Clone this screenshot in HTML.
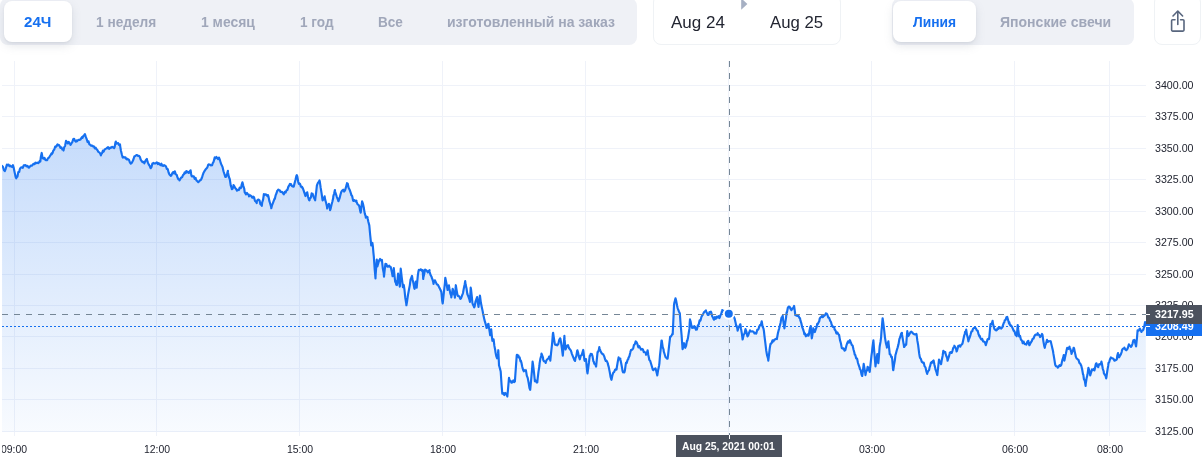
<!DOCTYPE html>
<html><head><meta charset="utf-8"><title>chart</title>
<style>
html,body{margin:0;padding:0;background:#fff;}
body{will-change:transform;width:1202px;height:466px;overflow:hidden;position:relative;font-family:"Liberation Sans",sans-serif;}
.grp{position:absolute;background:#eff1f6;border-radius:8px;}
.act{position:absolute;background:#fff;border-radius:8px;box-shadow:0 1px 2px rgba(128,138,157,.12),0 4px 10px rgba(128,138,157,.20);}
.t{position:absolute;top:13px;height:18px;line-height:18px;font-size:14px;font-weight:bold;color:#a0a7ba;white-space:nowrap;transform-origin:0 50%;display:inline-block;}
.t.on{color:#1670f0;}
.box{position:absolute;border:1px solid #eff2f5;border-radius:8px;background:#fff;box-sizing:border-box;}
.d{position:absolute;display:inline-block;top:13.2px;height:20px;line-height:20px;font-size:16px;color:#222531;white-space:nowrap;transform-origin:0 50%;}
.chart{position:absolute;left:0;top:0;}
.pl{position:absolute;left:1155px;transform:scaleX(0.968);transform-origin:0 50%;height:14px;line-height:14px;font-size:11px;color:#222531;white-space:nowrap;}
.tl{position:absolute;top:442px;transform:scaleX(0.95);transform-origin:50% 50%;width:60px;text-align:center;height:14px;line-height:14px;font-size:11px;color:#222531;white-space:nowrap;}
.lb{position:absolute;display:inline-block;transform-origin:0 50%;color:#fff;font-size:11px;font-weight:bold;white-space:nowrap;}
</style></head><body>
<div class="grp" style="left:0px;top:-2px;width:637px;height:46.5px"></div>
<div class="act" style="left:4px;top:1px;width:68px;height:40.5px"></div>
<span class="t on" id="t1" style="transform:scaleX(1.0779);left:23.8px">24Ч</span>
<span class="t" id="t2" style="transform:scaleX(0.9779);left:96.2px">1 неделя</span>
<span class="t" id="t3" style="transform:scaleX(0.9945);left:201px">1 месяц</span>
<span class="t" id="t4" style="transform:scaleX(0.9717);left:299.8px">1 год</span>
<span class="t" id="t5" style="transform:scaleX(0.9692);left:377.7px">Все</span>
<span class="t" id="t6" style="transform:scaleX(1.0021);left:447.4px">изготовленный на заказ</span>
<div class="box" style="left:652.9px;top:-6px;width:188.6px;height:50.5px"></div>
<span class="d" id="d1" style="transform:scaleX(1.0627);left:671px">Aug 24</span>
<span class="d" id="d2" style="transform:scaleX(1.0469);left:770.2px">Aug 25</span>
<svg style="position:absolute;left:741px;top:-2px" width="7" height="12" viewBox="0 0 7 12"><path d="M0.2,0.2 L6.4,6 L0.2,11.8 Z" fill="#a6b0c3"/></svg>
<div class="grp" style="left:892px;top:-2px;width:242px;height:46.5px"></div>
<div class="act" style="left:893px;top:1px;width:83px;height:40.5px"></div>
<span class="t on" id="t7" style="transform:scaleX(0.9869);left:912.7px">Линия</span>
<span class="t" id="t8" style="transform:scaleX(1.0020);left:999.7px">Японские свечи</span>
<div class="box" style="left:1154.2px;top:-6px;width:47.3px;height:50.8px"></div>
<svg style="position:absolute;left:1166px;top:6px" width="24" height="30" viewBox="1166 6 24 30" fill="none" stroke="#58667e" stroke-width="1.6" stroke-linecap="round" stroke-linejoin="round"><path d="M1175,19.8 H1172.6 Q1171.6,19.8 1171.6,20.8 V30.1 Q1171.6,31.1 1172.6,31.1 H1183 Q1184,31.1 1184,30.1 V20.8 Q1184,19.8 1183,19.8 H1180.6"/><path d="M1177.8,24.4 V11.2 M1173,16 L1177.8,11 L1182.6,16"/></svg>
<svg class="chart" width="1202" height="466" viewBox="0 0 1202 466">
<defs><linearGradient id="ag" x1="0" y1="60" x2="0" y2="432" gradientUnits="userSpaceOnUse"><stop offset="0" stop-color="#1670f0" stop-opacity="0.30"/><stop offset="1" stop-color="#1670f0" stop-opacity="0.03"/></linearGradient><clipPath id="pane"><rect x="2" y="60" width="1144" height="372"/></clipPath></defs>
<rect x="2" y="85" width="1144" height="1" fill="#eff2f9"/>
<rect x="2" y="116" width="1144" height="1" fill="#eff2f9"/>
<rect x="2" y="148" width="1144" height="1" fill="#eff2f9"/>
<rect x="2" y="179" width="1144" height="1" fill="#eff2f9"/>
<rect x="2" y="211" width="1144" height="1" fill="#eff2f9"/>
<rect x="2" y="242" width="1144" height="1" fill="#eff2f9"/>
<rect x="2" y="274" width="1144" height="1" fill="#eff2f9"/>
<rect x="2" y="305" width="1144" height="1" fill="#eff2f9"/>
<rect x="2" y="336" width="1144" height="1" fill="#eff2f9"/>
<rect x="2" y="368" width="1144" height="1" fill="#eff2f9"/>
<rect x="2" y="399" width="1144" height="1" fill="#eff2f9"/>
<rect x="2" y="431" width="1144" height="1" fill="#eff2f9"/>
<rect x="14" y="61" width="1" height="375" fill="#eff2f9"/>
<rect x="156" y="61" width="1" height="375" fill="#eff2f9"/>
<rect x="299" y="61" width="1" height="375" fill="#eff2f9"/>
<rect x="442" y="61" width="1" height="375" fill="#eff2f9"/>
<rect x="585" y="61" width="1" height="375" fill="#eff2f9"/>
<rect x="728" y="61" width="1" height="375" fill="#eff2f9"/>
<rect x="871" y="61" width="1" height="375" fill="#eff2f9"/>
<rect x="1014" y="61" width="1" height="375" fill="#eff2f9"/>
<rect x="1109" y="61" width="1" height="375" fill="#eff2f9"/>
<g clip-path="url(#pane)"><path d="M2.1,165.84 L3.0,166.93 L3.9,170.06 L4.8,171.11 L5.7,168.81 L6.6,165.58 L6.9,164.6 L7.5,165.32 L8.4,164.55 L9.3,166.03 L10.2,165.53 L10.3,166.33 L11.1,166.13 L12.0,166.77 L12.9,165.16 L13.8,168.17 L14.7,172.61 L15.6,176.83 L16.3,178.37 L16.5,177.53 L17.4,176.79 L18.3,172.12 L19.2,171.98 L19.7,169.61 L20.1,168.51 L21.0,167.61 L21.9,167.27 L22.8,167.76 L23.7,165.28 L24.6,165.49 L24.9,165.13 L25.5,165.14 L26.4,166.32 L27.3,165.77 L28.2,166.48 L28.3,167.43 L29.1,167.65 L30.0,166.41 L30.9,165.53 L31.8,165.65 L32.7,164.72 L33.6,163.73 L34.3,164.07 L34.5,164.23 L35.4,162.66 L36.3,163.13 L37.2,162.61 L38.1,163.13 L39.0,162.36 L39.9,160.82 L40.3,161.64 L40.8,157.28 L41.7,152.93 L42.6,157.87 L42.9,158.28 L43.5,158.74 L44.4,157.82 L45.3,159.71 L46.2,160.21 L47.1,159.96 L47.2,160.14 L48.0,158.14 L48.9,157.82 L49.8,156.24 L50.7,154.88 L51.5,153.46 L51.6,154.23 L52.5,153.07 L53.4,150.42 L54.3,149.49 L55.2,146.5 L56.1,146.74 L57.0,145.17 L57.5,144.45 L57.9,145.3 L58.8,144.93 L59.7,146.23 L60.6,148.0 L61.5,147.36 L62.4,149.54 L63.3,149.81 L63.5,150.55 L64.2,147.22 L65.1,145.81 L66.0,140.9 L66.1,141.27 L66.9,141.68 L67.8,143.45 L68.7,141.92 L69.6,143.4 L70.4,144.04 L70.5,144.85 L71.4,143.33 L72.3,142.1 L73.2,139.22 L73.8,138.82 L74.1,138.76 L75.0,140.82 L75.9,141.7 L76.8,140.29 L77.2,141.21 L77.7,140.47 L78.6,139.86 L79.5,139.91 L80.4,139.58 L81.3,138.12 L82.2,136.85 L82.4,137.93 L83.1,136.46 L84.0,135.42 L84.9,134.11 L85.8,136.9 L86.7,139.14 L87.5,141.61 L87.6,142.06 L88.5,141.31 L89.4,144.38 L90.3,144.95 L91.0,145.24 L91.2,145.84 L92.1,145.55 L93.0,146.32 L93.9,146.31 L94.8,148.45 L95.7,147.72 L96.1,148.81 L96.6,149.12 L97.5,150.22 L98.4,151.9 L99.3,152.37 L100.2,153.45 L100.9,155.38 L101.1,154.28 L102.0,153.25 L102.9,150.66 L103.0,152.04 L103.8,151.34 L104.7,149.39 L105.6,148.91 L106.5,148.42 L107.4,147.72 L108.1,147.16 L108.3,148.43 L109.2,148.93 L110.1,147.68 L111.0,147.84 L111.9,146.93 L112.8,147.09 L113.7,147.84 L114.1,148.09 L114.6,147.3 L115.5,142.23 L115.8,141.57 L116.4,143.69 L117.3,143.36 L118.2,143.15 L119.1,144.95 L120.0,144.38 L120.1,145.73 L120.9,150.54 L121.8,154.29 L122.7,157.58 L123.6,157.03 L124.5,157.56 L125.4,157.29 L126.3,159.11 L127.0,158.63 L127.2,159.53 L128.1,159.26 L129.0,159.88 L129.9,162.31 L130.8,163.66 L131.3,163.22 L131.7,162.93 L132.6,161.24 L133.5,159.32 L134.4,156.26 L134.7,156.42 L135.3,156.02 L136.2,155.18 L137.1,155.17 L138.0,155.83 L138.9,155.77 L139.8,156.9 L139.9,156.82 L140.0,157.45 L140.7,159.61 L141.6,161.0 L142.5,162.17 L143.4,161.89 L144.3,163.25 L145.2,161.3 L146.1,159.73 L146.9,158.93 L147.0,159.76 L147.9,162.65 L148.8,164.66 L149.7,165.88 L150.6,168.24 L151.5,167.11 L152.4,163.48 L153.3,163.21 L153.4,162.97 L154.2,163.47 L155.1,163.54 L156.0,162.99 L156.9,162.37 L157.8,164.11 L158.7,163.08 L159.6,164.45 L160.5,165.05 L161.4,163.71 L161.5,163.91 L162.3,165.76 L163.2,165.85 L164.1,165.08 L165.0,165.64 L165.9,166.37 L166.6,168.17 L166.8,168.98 L167.7,168.98 L168.6,172.46 L169.5,174.58 L170.4,175.46 L170.9,175.86 L171.3,175.63 L172.2,173.44 L173.1,172.03 L174.0,173.41 L174.8,171.34 L174.9,171.47 L175.8,174.33 L176.7,174.83 L177.6,177.77 L178.5,179.45 L179.4,179.65 L179.5,180.37 L180.3,178.96 L181.2,177.58 L182.1,177.23 L183.0,175.14 L183.9,174.31 L184.8,172.31 L185.7,173.1 L186.3,171.07 L186.6,171.18 L187.5,171.79 L188.4,172.9 L188.9,171.93 L189.3,172.69 L190.2,170.7 L190.6,170.33 L191.1,173.69 L191.5,175.86 L192.0,176.45 L192.9,176.32 L193.8,176.4 L194.7,179.01 L195.6,177.93 L195.8,178.88 L196.5,180.44 L197.4,181.22 L198.3,182.14 L199.2,181.27 L200.1,180.28 L201.0,179.8 L201.8,177.74 L201.9,177.99 L202.8,174.79 L203.7,172.48 L204.4,171.45 L204.6,170.89 L205.5,169.55 L206.4,168.59 L207.3,167.51 L208.2,164.81 L208.6,164.4 L209.1,164.44 L210.0,164.69 L210.9,165.39 L211.8,165.0 L212.1,165.23 L212.7,163.27 L213.6,161.67 L214.5,158.24 L214.7,157.44 L215.4,158.45 L216.3,156.93 L217.2,157.97 L218.1,159.22 L218.9,158.61 L219.0,157.62 L219.9,159.97 L220.8,163.19 L221.5,164.81 L221.7,165.08 L222.6,167.16 L223.5,171.22 L224.4,174.03 L225.3,176.84 L225.8,176.89 L226.2,176.62 L227.1,173.9 L227.9,170.88 L228.0,172.66 L228.9,177.03 L229.8,179.24 L230.7,185.3 L231.6,188.01 L231.8,189.19 L232.5,188.87 L233.4,186.39 L233.5,184.99 L234.3,186.4 L235.2,188.06 L236.1,189.04 L237.0,190.62 L237.9,189.72 L238.8,190.05 L239.7,187.52 L240.6,188.19 L241.3,187.45 L241.5,185.38 L242.4,182.3 L242.5,182.41 L243.3,185.79 L244.2,188.51 L244.7,192.24 L245.1,192.95 L246.0,194.33 L246.9,192.97 L247.8,194.29 L248.7,194.6 L249.0,196.35 L249.6,195.61 L250.5,195.42 L251.4,196.34 L252.3,197.78 L253.2,197.71 L253.3,196.68 L254.1,197.4 L255.0,200.99 L255.9,201.67 L256.7,203.08 L256.8,201.63 L257.7,199.75 L258.4,199.67 L258.6,199.66 L259.5,200.33 L260.4,204.17 L261.3,204.97 L261.8,205.77 L262.2,202.3 L263.1,199.55 L263.9,194.01 L264.0,195.36 L264.9,194.48 L265.8,194.36 L266.7,195.1 L267.6,196.25 L267.9,194.99 L268.5,196.6 L269.4,201.18 L270.3,203.98 L271.2,207.19 L271.3,208.29 L272.1,205.08 L273.0,202.82 L273.9,200.46 L274.7,198.42 L274.8,198.98 L275.7,195.09 L276.6,192.97 L277.3,190.61 L277.5,190.5 L278.4,189.65 L279.3,190.25 L280.0,190.46 L280.2,191.67 L281.1,191.93 L282.0,191.72 L282.9,193.2 L283.8,194.4 L284.7,191.82 L285.6,192.51 L286.5,190.34 L286.9,190.0 L287.4,189.85 L288.3,186.88 L289.2,185.34 L290.0,183.87 L290.1,185.03 L291.0,184.07 L291.9,186.05 L292.8,186.43 L293.7,186.72 L294.6,183.13 L295.5,179.76 L296.4,175.77 L296.8,175.16 L297.3,176.41 L298.2,181.79 L298.9,183.78 L299.1,183.29 L300.0,183.84 L300.9,186.56 L301.8,187.4 L302.0,186.76 L302.7,187.99 L303.6,190.4 L304.5,193.05 L305.4,196.06 L306.3,193.36 L307.1,192.55 L307.2,192.31 L308.1,197.01 L309.0,199.92 L309.5,200.34 L309.9,198.45 L310.8,197.67 L311.7,193.3 L311.8,193.37 L312.6,193.8 L313.5,196.59 L314.4,198.63 L315.2,200.3 L315.3,198.67 L316.2,191.78 L316.9,185.35 L317.1,184.81 L318.0,182.66 L318.9,181.77 L319.5,180.48 L319.8,181.54 L320.7,187.9 L321.6,193.35 L322.5,199.9 L322.6,200.33 L323.4,199.27 L324.3,197.14 L324.6,196.3 L325.2,199.85 L326.1,202.74 L327.0,206.72 L327.2,208.54 L327.9,205.42 L328.8,204.64 L328.9,203.93 L329.7,206.61 L330.1,210.11 L330.6,208.88 L331.5,204.71 L332.4,201.5 L333.2,198.08 L333.3,196.4 L334.2,193.27 L334.9,190.0 L335.1,191.49 L336.0,194.22 L336.9,197.08 L337.8,199.25 L338.4,201.26 L338.7,200.56 L339.6,198.16 L340.5,194.52 L341.4,191.57 L342.1,190.57 L342.3,190.52 L343.2,189.75 L344.1,191.56 L344.9,190.65 L345.0,190.58 L345.9,187.4 L346.8,184.37 L347.0,183.19 L347.7,183.59 L348.6,187.81 L349.5,189.43 L350.4,191.91 L351.2,194.33 L351.3,195.01 L352.2,196.17 L353.1,200.62 L353.5,200.97 L354.0,200.04 L354.9,200.45 L355.8,201.56 L356.4,200.63 L356.7,202.09 L357.6,204.41 L358.5,204.87 L359.3,206.29 L359.4,206.77 L360.3,211.16 L360.7,212.64 L361.2,208.7 L362.1,201.33 L363.0,203.97 L363.9,208.02 L364.1,209.58 L364.8,213.6 L365.7,216.54 L365.8,217.56 L366.6,216.63 L367.5,217.21 L367.6,218.19 L368.4,222.05 L369.3,225.37 L370.2,235.27 L371.1,243.89 L371.2,245.52 L372.0,243.67 L372.4,242.87 L372.9,246.61 L373.4,252.66 L373.8,256.43 L374.7,269.51 L375.5,278.5 L375.6,275.39 L376.5,263.45 L376.8,259.49 L377.4,266.33 L377.5,266.05 L378.3,263.1 L379.2,260.25 L379.7,259.91 L380.1,258.99 L381.0,260.5 L381.9,259.91 L382.0,260.92 L382.8,268.28 L383.7,273.12 L384.0,276.69 L384.6,270.89 L385.4,263.85 L385.5,264.15 L386.4,263.97 L387.3,266.76 L388.2,266.75 L388.3,266.47 L389.1,265.61 L390.0,266.88 L390.6,266.86 L390.9,267.81 L391.8,271.67 L392.6,276.26 L392.7,275.27 L393.6,270.78 L393.8,268.15 L394.5,275.7 L395.2,281.81 L395.4,280.91 L396.3,284.81 L396.9,285.09 L397.2,283.17 L398.1,273.61 L399.0,280.3 L399.8,286.6 L399.9,285.99 L400.7,268.68 L400.8,269.1 L401.7,277.0 L402.6,284.34 L402.9,287.09 L403.5,284.73 L403.8,285.2 L404.4,289.1 L405.3,297.92 L406.2,303.26 L406.4,305.29 L407.1,301.22 L408.0,294.84 L408.9,289.98 L409.8,285.36 L410.6,279.25 L410.7,279.47 L411.6,276.81 L412.0,275.88 L412.5,279.28 L413.4,283.0 L414.3,288.19 L414.6,288.79 L415.2,285.95 L415.8,281.46 L416.1,284.16 L416.7,287.63 L417.0,284.07 L417.9,274.82 L418.4,271.59 L418.8,269.96 L419.7,270.24 L420.6,269.3 L420.9,269.32 L421.5,270.39 L422.4,271.41 L422.7,270.08 L423.2,279.04 L423.3,277.88 L424.2,273.99 L424.9,270.2 L425.1,269.56 L426.0,270.1 L426.9,270.78 L427.8,272.47 L428.7,271.14 L429.5,270.05 L429.6,271.69 L430.5,274.9 L431.4,276.45 L432.1,278.57 L432.3,278.84 L433.2,281.92 L433.5,283.96 L434.1,281.29 L434.7,280.36 L435.0,280.38 L435.9,282.4 L436.8,284.43 L437.3,284.33 L437.7,284.56 L438.6,286.11 L439.5,287.95 L439.8,288.29 L440.4,289.78 L441.3,291.76 L441.5,293.3 L442.2,300.72 L442.7,303.46 L443.1,299.85 L444.0,291.29 L444.9,283.0 L445.3,277.84 L445.8,280.11 L446.7,284.75 L447.6,290.01 L448.5,286.36 L448.9,285.31 L449.4,288.49 L450.3,293.39 L451.2,296.02 L451.3,297.37 L452.1,292.97 L452.7,288.76 L453.0,289.61 L453.9,293.75 L454.8,296.07 L454.9,297.7 L455.7,287.44 L455.8,285.2 L456.6,290.09 L457.5,295.19 L457.9,295.87 L458.4,295.6 L459.3,296.66 L460.2,298.55 L460.4,298.87 L461.1,298.23 L462.0,295.58 L462.9,293.31 L463.0,292.94 L463.8,288.52 L464.7,284.18 L465.2,281.08 L465.6,284.52 L466.5,288.23 L467.3,293.88 L467.4,294.21 L468.3,296.3 L469.2,298.82 L469.9,301.87 L470.1,298.8 L470.7,287.68 L471.0,289.23 L471.9,297.32 L472.4,303.02 L472.8,304.26 L473.7,306.1 L474.2,307.45 L474.6,306.5 L475.5,301.68 L476.4,299.14 L477.1,297.06 L477.3,299.64 L478.2,304.86 L478.5,306.85 L479.1,301.89 L479.9,295.66 L480.0,295.81 L480.9,302.81 L481.8,307.28 L482.7,311.39 L483.0,313.16 L483.6,316.03 L484.5,320.14 L485.4,323.13 L486.3,326.36 L486.5,327.95 L487.2,327.58 L488.1,324.06 L488.4,323.78 L489.0,327.56 L489.9,333.43 L490.1,335.07 L490.8,330.36 L491.2,329.27 L491.7,334.54 L492.4,340.8 L492.6,339.83 L493.5,340.92 L493.6,339.43 L494.4,345.91 L495.3,350.53 L495.5,352.35 L496.2,355.86 L497.1,358.31 L498.0,353.45 L498.3,350.2 L498.9,362.5 L499.0,365.25 L499.8,368.06 L500.7,371.55 L501.6,385.22 L502.3,393.58 L502.5,393.62 L503.4,393.15 L504.3,395.13 L505.2,392.97 L505.4,393.49 L506.1,393.6 L507.0,395.56 L507.3,396.56 L507.9,390.53 L508.8,380.13 L509.0,377.75 L509.7,381.16 L510.1,381.44 L510.6,380.78 L511.5,382.73 L512.4,382.24 L513.3,380.38 L514.2,382.03 L514.9,381.49 L515.1,378.44 L516.0,365.58 L516.7,355.8 L516.9,354.75 L517.8,355.2 L518.4,355.46 L518.7,357.43 L519.6,357.22 L520.5,361.36 L520.8,360.53 L521.4,362.55 L522.3,366.94 L523.2,370.12 L523.8,371.34 L524.1,370.07 L525.0,370.7 L525.9,370.18 L526.8,375.58 L527.7,377.87 L528.6,382.51 L529.5,388.08 L530.2,389.87 L530.4,387.71 L531.3,378.14 L532.2,367.41 L532.6,361.58 L533.1,364.9 L534.0,372.37 L534.9,381.28 L535.8,380.72 L536.7,382.44 L537.3,382.46 L537.6,379.22 L538.5,371.65 L539.4,366.03 L539.6,363.31 L540.3,359.08 L541.2,355.76 L541.5,353.53 L542.1,355.2 L543.0,357.62 L543.2,359.83 L543.9,361.28 L544.8,361.32 L545.7,362.9 L546.0,361.57 L546.6,360.17 L547.5,359.08 L548.4,358.62 L549.1,356.51 L549.3,356.59 L550.2,359.76 L550.3,360.74 L551.1,352.7 L552.0,344.73 L552.9,333.7 L553.1,332.78 L553.8,337.47 L554.7,343.28 L555.0,344.55 L555.6,344.89 L556.5,344.63 L557.3,345.34 L557.4,344.91 L558.3,343.94 L559.2,340.05 L560.1,338.3 L560.4,338.63 L561.0,342.17 L561.9,348.33 L562.8,355.68 L563.7,344.93 L564.4,335.84 L564.6,339.42 L565.5,348.91 L565.6,349.44 L566.4,347.22 L567.3,345.44 L568.0,345.13 L568.2,345.9 L569.1,348.28 L570.0,349.42 L570.9,350.69 L571.5,352.52 L571.8,353.6 L572.7,355.79 L573.6,358.03 L574.5,360.34 L575.1,360.95 L575.4,358.43 L576.3,356.16 L577.2,350.59 L577.4,350.26 L578.1,352.61 L579.0,357.09 L579.8,359.33 L579.9,358.49 L580.0,358.47 L580.8,355.65 L581.7,355.13 L582.6,351.92 L583.2,349.94 L583.5,351.97 L584.4,359.94 L584.7,360.81 L585.3,359.13 L586.0,358.98 L586.2,361.1 L587.1,370.98 L587.5,373.34 L588.0,369.5 L588.9,362.95 L589.7,355.81 L589.8,356.52 L590.7,353.78 L591.6,353.97 L591.8,354.05 L592.5,356.09 L593.4,361.34 L593.9,361.98 L594.3,363.8 L595.2,364.11 L596.1,366.53 L597.0,357.67 L597.6,351.98 L597.9,352.09 L598.8,350.04 L599.3,347.14 L599.7,348.8 L600.6,351.24 L601.5,353.04 L602.4,353.9 L603.3,354.25 L603.6,355.23 L604.2,356.31 L605.1,359.37 L605.8,360.94 L606.0,360.33 L606.9,361.21 L607.8,363.4 L607.9,364.16 L608.7,366.88 L609.6,371.36 L610.0,373.43 L610.5,376.6 L611.4,379.8 L611.5,379.7 L612.3,375.73 L613.2,372.74 L613.3,372.65 L614.1,372.16 L615.0,369.84 L615.9,369.13 L616.5,369.58 L616.8,367.48 L617.7,362.09 L618.6,357.42 L619.5,359.36 L620.3,358.53 L620.4,359.41 L621.3,363.69 L622.2,368.67 L622.5,370.83 L623.1,372.45 L624.0,371.8 L624.4,372.32 L624.9,370.37 L625.8,363.92 L626.1,362.55 L626.7,362.87 L627.6,359.87 L628.3,358.99 L628.5,357.84 L629.4,356.29 L630.3,352.41 L630.4,351.89 L631.2,349.71 L632.1,349.72 L633.0,348.57 L633.2,348.27 L633.9,345.11 L634.8,344.28 L635.7,341.41 L635.8,341.5 L636.6,342.22 L637.5,344.42 L637.9,345.82 L638.4,347.39 L639.3,346.14 L640.2,348.01 L641.1,349.7 L641.2,349.42 L642.0,348.86 L642.9,349.41 L643.8,352.27 L643.9,351.63 L644.7,352.32 L645.6,352.51 L646.1,354.79 L646.5,352.96 L647.4,351.72 L647.6,350.21 L648.3,354.96 L649.1,358.39 L649.2,359.71 L650.1,360.66 L651.0,363.54 L651.9,366.52 L652.8,369.64 L653.4,370.21 L653.7,369.45 L654.6,368.98 L655.5,368.32 L656.4,371.75 L657.3,375.46 L658.2,369.66 L659.1,365.41 L659.4,363.36 L660.0,355.35 L660.9,347.02 L661.5,340.63 L661.8,340.67 L662.7,347.17 L663.6,349.72 L663.7,351.29 L664.5,353.77 L665.4,356.71 L665.8,357.42 L666.3,357.7 L667.2,358.67 L667.6,358.63 L668.1,354.81 L669.0,346.52 L669.9,338.76 L670.1,336.77 L670.8,336.65 L671.7,335.2 L672.6,333.43 L672.7,334.24 L673.5,316.88 L674.0,304.96 L674.4,302.46 L675.3,299.38 L675.5,298.24 L676.2,300.83 L677.1,305.73 L677.6,307.83 L678.0,309.03 L678.9,311.42 L679.8,313.18 L680.7,325.33 L681.6,335.27 L682.5,348.34 L682.6,349.25 L683.4,346.15 L684.1,343.19 L684.3,344.39 L685.2,347.79 L686.1,345.86 L687.0,340.53 L687.3,340.72 L687.9,338.32 L688.8,332.57 L689.4,328.89 L689.7,323.0 L690.0,319.44 L690.6,321.44 L691.5,326.33 L692.1,327.98 L692.4,326.58 L693.3,327.75 L694.2,327.67 L694.3,326.1 L695.1,327.33 L696.0,329.76 L696.4,329.39 L696.9,329.43 L697.8,325.47 L698.7,324.53 L699.6,320.43 L699.7,321.1 L700.5,320.59 L701.4,316.94 L702.3,315.28 L702.9,314.71 L703.2,313.88 L704.1,312.11 L705.0,311.45 L705.9,310.35 L706.1,311.4 L706.8,312.7 L707.7,314.85 L708.2,314.4 L708.6,314.95 L709.5,312.1 L710.4,312.07 L710.8,311.62 L711.3,312.47 L712.2,316.22 L713.1,317.8 L713.6,319.07 L714.0,319.72 L714.9,317.08 L715.8,318.77 L716.7,317.21 L716.8,316.7 L717.6,317.57 L718.5,316.19 L719.4,318.08 L720.0,316.87 L720.3,315.56 L721.2,314.0 L722.1,310.54 L722.2,310.11 L723.0,311.73 L723.9,310.71 L724.8,313.51 L725.4,312.98 L725.7,313.64 L726.6,314.76 L727.5,313.95 L728.4,314.38 L728.6,313.83 L729.3,313.07 L730.2,313.62 L731.1,314.38 L732.0,316.06 L732.9,316.05 L733.8,316.73 L734.0,317.16 L734.7,318.71 L735.6,322.64 L736.1,325.54 L736.5,325.6 L737.4,328.79 L737.6,330.67 L738.3,328.15 L739.2,326.71 L740.1,324.28 L740.4,324.38 L741.0,328.65 L741.9,333.83 L742.6,339.51 L742.8,338.64 L743.7,334.64 L744.6,333.61 L745.4,329.47 L745.5,329.09 L746.4,331.7 L747.3,335.85 L747.5,336.44 L748.2,335.41 L749.1,332.58 L750.0,330.39 L750.1,330.36 L750.9,331.43 L751.8,331.49 L752.7,331.22 L753.3,331.93 L753.6,331.77 L754.5,333.41 L755.4,333.23 L756.1,332.67 L756.3,333.62 L757.2,329.9 L758.1,329.67 L758.7,328.51 L759.0,327.32 L759.9,325.05 L760.8,325.13 L761.7,321.33 L761.9,322.25 L762.6,326.55 L763.5,328.58 L764.0,331.53 L764.4,335.41 L765.3,342.63 L766.2,350.23 L767.1,355.5 L768.0,358.43 L768.3,360.63 L768.9,355.59 L769.8,347.9 L770.5,343.95 L770.7,344.14 L771.6,343.06 L772.5,340.32 L772.6,341.81 L773.4,341.37 L774.3,339.79 L774.8,339.62 L775.2,339.28 L776.1,338.69 L776.9,339.04 L777.0,338.21 L777.9,333.29 L778.8,329.65 L779.1,328.83 L779.7,326.36 L780.6,322.64 L781.2,319.19 L781.5,317.75 L782.4,316.58 L782.7,315.74 L783.3,321.07 L784.2,327.15 L784.4,328.39 L785.1,323.85 L786.0,318.1 L786.6,312.24 L786.9,312.66 L787.8,307.93 L788.7,306.48 L789.6,306.75 L790.5,308.8 L791.4,310.05 L791.9,309.52 L792.3,308.27 L793.2,308.4 L794.1,305.94 L795.0,312.46 L795.2,315.07 L795.9,315.28 L796.8,315.75 L797.7,315.99 L798.4,316.24 L798.6,315.98 L799.5,318.13 L800.0,318.08 L800.4,320.47 L801.3,323.06 L802.1,326.7 L802.2,327.02 L803.1,329.41 L804.0,332.23 L804.3,334.11 L804.9,333.39 L805.8,336.28 L806.7,335.01 L806.9,335.67 L807.6,334.38 L808.5,335.62 L809.0,333.86 L809.4,331.3 L810.3,327.04 L810.7,326.08 L811.2,332.36 L811.8,338.42 L812.1,336.87 L813.0,331.16 L813.3,328.2 L813.9,330.31 L814.6,331.68 L814.8,332.05 L815.7,329.46 L816.6,327.05 L817.2,323.91 L817.5,324.62 L818.4,322.83 L819.3,321.0 L819.7,318.64 L820.2,317.84 L821.1,316.89 L822.0,315.98 L822.5,317.12 L822.9,317.22 L823.8,315.89 L824.7,315.51 L825.6,314.14 L825.8,313.41 L826.5,313.5 L827.4,314.7 L828.3,317.63 L829.0,317.63 L829.2,317.97 L830.1,320.65 L831.0,322.01 L831.8,325.18 L831.9,324.92 L832.8,326.84 L833.7,326.73 L834.3,327.44 L834.6,329.53 L835.5,330.5 L836.4,333.57 L836.5,333.01 L837.3,332.36 L838.2,334.11 L839.1,335.04 L840.0,340.08 L840.9,343.23 L841.8,348.09 L842.7,348.6 L843.6,348.36 L844.5,350.64 L845.1,349.73 L845.4,350.13 L846.3,346.02 L847.2,343.16 L848.1,341.26 L848.3,341.74 L849.0,342.74 L849.9,340.21 L850.4,341.49 L850.8,342.26 L851.7,344.81 L852.6,345.51 L853.5,349.47 L854.4,352.77 L854.7,354.7 L855.3,354.95 L856.2,358.49 L856.9,358.5 L857.1,358.64 L858.0,362.99 L858.9,365.55 L859.7,367.95 L859.8,368.95 L860.7,370.21 L861.6,374.75 L862.2,375.98 L862.5,374.19 L863.4,366.69 L863.7,363.87 L864.3,367.34 L865.2,372.73 L865.5,375.16 L866.1,371.58 L867.0,370.45 L867.6,366.87 L867.9,367.14 L868.8,369.08 L869.7,371.87 L870.6,363.61 L871.5,355.4 L871.9,352.55 L872.4,347.57 L873.3,341.09 L873.4,340.43 L874.2,350.89 L875.1,361.94 L875.5,366.33 L876.0,362.53 L876.9,356.57 L877.3,354.09 L877.8,359.59 L878.3,363.15 L878.7,359.04 L879.6,347.23 L879.8,345.74 L880.5,341.88 L881.1,337.27 L881.4,332.37 L882.3,321.66 L882.6,318.25 L883.2,322.18 L884.1,329.51 L884.8,335.92 L885.0,337.75 L885.9,343.17 L886.8,346.44 L886.9,347.59 L887.7,343.83 L888.4,341.34 L888.6,343.54 L889.5,351.53 L889.7,354.24 L890.4,354.29 L891.3,357.24 L891.8,356.71 L892.2,359.2 L893.1,369.84 L893.3,370.14 L894.0,365.08 L894.9,360.05 L895.5,354.67 L895.8,354.08 L896.7,350.52 L897.6,347.62 L898.5,344.33 L899.4,339.02 L899.8,338.03 L900.3,336.72 L901.2,333.49 L901.9,332.81 L902.1,334.93 L903.0,340.4 L903.9,345.63 L904.1,347.02 L904.8,346.07 L905.7,344.29 L906.2,344.79 L906.6,339.4 L907.3,331.02 L907.5,332.82 L908.4,336.04 L909.3,334.49 L910.0,333.13 L910.2,332.59 L911.1,331.62 L912.0,332.43 L912.1,332.15 L912.9,333.31 L913.8,334.02 L914.3,334.32 L914.7,334.47 L915.6,334.37 L916.4,333.96 L916.5,334.17 L917.4,340.89 L918.2,345.43 L918.3,346.3 L919.2,353.67 L919.7,356.69 L920.1,357.87 L921.0,359.19 L921.8,361.83 L921.9,361.84 L922.8,362.74 L923.7,362.66 L923.9,363.16 L924.6,366.39 L925.5,367.36 L926.4,371.51 L927.2,373.95 L927.3,373.15 L928.2,371.11 L929.1,370.07 L929.7,366.88 L930.0,366.51 L930.9,362.82 L931.5,362.16 L931.8,362.89 L932.7,361.32 L933.6,360.44 L934.5,364.96 L935.3,368.34 L935.4,369.19 L936.3,371.58 L937.2,374.84 L937.3,375.1 L938.1,367.75 L939.0,359.62 L939.9,362.71 L940.8,362.63 L941.1,364.17 L941.7,360.23 L942.6,355.96 L943.3,350.86 L943.5,352.66 L944.4,351.92 L945.3,352.05 L945.4,353.09 L946.2,355.77 L947.1,357.83 L947.6,360.73 L948.0,359.16 L948.9,356.67 L949.7,353.17 L949.8,352.64 L950.7,352.06 L951.6,352.93 L951.8,352.6 L952.5,350.55 L953.4,347.53 L954.3,346.83 L954.4,345.7 L955.2,347.01 L956.1,349.01 L956.6,351.45 L957.0,350.73 L957.9,347.42 L958.3,345.77 L958.8,346.06 L959.7,345.35 L960.4,346.62 L960.6,345.49 L961.5,344.76 L962.4,343.76 L962.6,342.89 L963.3,339.65 L964.2,335.51 L964.7,334.04 L965.1,331.88 L966.0,331.14 L966.2,329.57 L966.9,334.37 L967.8,337.68 L968.4,341.39 L968.7,339.94 L969.6,337.65 L970.5,334.81 L971.4,331.6 L972.3,331.26 L972.7,329.5 L973.2,328.58 L974.1,327.91 L975.0,327.58 L975.9,328.52 L976.8,330.17 L977.6,330.94 L977.7,330.69 L978.6,334.44 L979.5,336.52 L979.7,335.7 L980.4,338.0 L981.3,339.56 L981.9,339.66 L982.2,338.77 L983.1,341.46 L984.0,341.62 L984.9,342.16 L985.5,344.26 L985.8,345.16 L986.7,342.24 L987.3,340.17 L987.6,339.19 L988.5,338.77 L989.0,339.16 L989.4,336.09 L990.3,325.91 L990.5,323.98 L991.2,324.28 L992.1,322.62 L992.6,320.8 L993.0,323.88 L993.9,327.12 L994.3,328.86 L994.8,329.25 L995.7,330.22 L996.6,330.32 L996.9,330.01 L997.5,328.34 L998.4,328.77 L999.1,327.63 L999.3,328.23 L1000.2,327.44 L1001.1,328.59 L1002.0,327.74 L1002.3,327.39 L1002.9,325.37 L1003.8,322.81 L1004.4,322.19 L1004.7,320.47 L1005.6,319.8 L1006.5,317.23 L1007.2,316.79 L1007.4,317.48 L1008.3,320.67 L1009.1,323.63 L1009.2,322.13 L1010.1,325.33 L1011.0,325.39 L1011.9,326.56 L1012.8,328.69 L1013.7,330.9 L1014.1,330.69 L1014.6,331.61 L1015.5,334.85 L1016.4,334.38 L1016.7,336.22 L1017.3,330.03 L1017.7,324.97 L1018.2,329.42 L1019.0,335.27 L1019.1,336.31 L1020.0,335.85 L1020.9,339.46 L1021.8,340.45 L1022.4,341.89 L1022.7,343.14 L1023.6,341.51 L1024.5,343.91 L1025.4,344.28 L1025.9,344.15 L1026.3,344.66 L1027.2,342.06 L1028.1,341.03 L1028.3,340.82 L1029.0,344.49 L1029.4,345.24 L1029.9,344.35 L1030.8,342.56 L1031.7,341.14 L1031.8,341.1 L1032.6,338.89 L1033.5,338.74 L1034.4,336.09 L1034.6,336.0 L1035.3,334.73 L1036.2,334.47 L1037.1,334.82 L1037.7,333.14 L1038.0,334.28 L1038.9,334.66 L1039.8,336.2 L1040.1,337.02 L1040.7,336.32 L1041.6,334.79 L1042.0,333.96 L1042.5,335.02 L1043.4,341.33 L1044.3,346.28 L1044.8,347.84 L1045.2,345.41 L1046.1,343.32 L1047.0,339.82 L1047.1,340.52 L1047.9,341.9 L1048.8,341.08 L1049.7,341.21 L1050.6,341.55 L1050.7,341.17 L1051.5,344.62 L1052.4,348.61 L1053.1,351.52 L1053.3,353.14 L1054.2,358.39 L1055.1,364.13 L1055.4,365.24 L1056.0,366.3 L1056.9,366.31 L1057.8,367.65 L1058.5,367.04 L1058.7,366.36 L1059.6,365.02 L1060.5,365.97 L1061.3,364.78 L1061.4,364.41 L1062.3,360.1 L1063.2,357.72 L1063.7,355.16 L1064.1,358.43 L1064.4,360.58 L1065.0,357.5 L1065.9,353.63 L1066.8,349.19 L1067.2,347.74 L1067.7,348.17 L1068.6,348.93 L1069.5,346.64 L1069.6,347.86 L1070.4,349.09 L1071.3,352.09 L1071.5,353.98 L1072.2,351.93 L1073.1,350.29 L1073.6,347.75 L1074.0,348.03 L1074.9,352.36 L1075.5,354.98 L1075.8,356.65 L1076.7,358.6 L1077.6,359.13 L1077.8,359.52 L1078.5,359.9 L1079.4,363.02 L1080.3,363.61 L1080.9,365.18 L1081.2,365.43 L1082.1,368.96 L1083.0,374.29 L1083.3,374.66 L1083.9,378.98 L1084.8,380.84 L1085.6,385.94 L1085.7,384.02 L1086.6,378.24 L1087.5,374.57 L1088.4,367.84 L1088.5,368.11 L1089.3,370.64 L1090.1,374.59 L1090.2,375.4 L1091.1,372.45 L1092.0,369.42 L1092.9,370.15 L1093.8,368.92 L1094.4,370.42 L1094.7,369.51 L1095.6,364.87 L1096.0,363.59 L1096.5,363.29 L1097.4,366.45 L1098.3,367.12 L1098.4,366.26 L1099.2,364.18 L1100.1,364.43 L1101.0,363.45 L1101.4,361.62 L1101.9,363.72 L1102.8,368.78 L1103.7,371.29 L1103.8,372.93 L1104.6,374.53 L1105.5,375.63 L1106.2,378.38 L1106.4,377.36 L1107.3,371.02 L1108.2,365.66 L1108.5,362.88 L1109.1,362.5 L1110.0,359.16 L1110.9,357.43 L1111.8,358.3 L1112.7,358.42 L1113.6,359.01 L1114.0,359.86 L1114.5,360.76 L1115.4,360.34 L1116.3,359.77 L1116.8,359.41 L1117.2,356.12 L1118.0,353.03 L1118.1,353.52 L1119.0,357.37 L1119.2,357.15 L1119.9,355.8 L1120.8,354.48 L1121.7,351.82 L1122.0,350.29 L1122.6,349.08 L1123.5,348.45 L1124.3,348.15 L1124.4,347.61 L1125.3,349.54 L1126.2,350.29 L1127.1,349.47 L1128.0,347.47 L1128.6,345.3 L1128.9,344.35 L1129.8,345.48 L1130.7,346.35 L1131.0,346.78 L1131.6,345.98 L1132.5,343.86 L1133.3,340.38 L1133.4,341.57 L1134.3,340.61 L1134.5,339.93 L1135.2,342.89 L1136.1,346.49 L1137.0,337.65 L1137.6,330.38 L1137.9,330.44 L1138.8,330.6 L1139.7,328.7 L1139.9,328.62 L1140.6,330.09 L1141.5,331.94 L1141.6,331.03 L1142.4,330.73 L1143.3,329.84 L1143.9,327.56 L1144.2,326.6 L1145.1,322.06 L1145.8,325.37 L1146,432 L2,432 Z" fill="url(#ag)"/><path d="M2.1,165.84 L3.0,166.93 L3.9,170.06 L4.8,171.11 L5.7,168.81 L6.6,165.58 L6.9,164.6 L7.5,165.32 L8.4,164.55 L9.3,166.03 L10.2,165.53 L10.3,166.33 L11.1,166.13 L12.0,166.77 L12.9,165.16 L13.8,168.17 L14.7,172.61 L15.6,176.83 L16.3,178.37 L16.5,177.53 L17.4,176.79 L18.3,172.12 L19.2,171.98 L19.7,169.61 L20.1,168.51 L21.0,167.61 L21.9,167.27 L22.8,167.76 L23.7,165.28 L24.6,165.49 L24.9,165.13 L25.5,165.14 L26.4,166.32 L27.3,165.77 L28.2,166.48 L28.3,167.43 L29.1,167.65 L30.0,166.41 L30.9,165.53 L31.8,165.65 L32.7,164.72 L33.6,163.73 L34.3,164.07 L34.5,164.23 L35.4,162.66 L36.3,163.13 L37.2,162.61 L38.1,163.13 L39.0,162.36 L39.9,160.82 L40.3,161.64 L40.8,157.28 L41.7,152.93 L42.6,157.87 L42.9,158.28 L43.5,158.74 L44.4,157.82 L45.3,159.71 L46.2,160.21 L47.1,159.96 L47.2,160.14 L48.0,158.14 L48.9,157.82 L49.8,156.24 L50.7,154.88 L51.5,153.46 L51.6,154.23 L52.5,153.07 L53.4,150.42 L54.3,149.49 L55.2,146.5 L56.1,146.74 L57.0,145.17 L57.5,144.45 L57.9,145.3 L58.8,144.93 L59.7,146.23 L60.6,148.0 L61.5,147.36 L62.4,149.54 L63.3,149.81 L63.5,150.55 L64.2,147.22 L65.1,145.81 L66.0,140.9 L66.1,141.27 L66.9,141.68 L67.8,143.45 L68.7,141.92 L69.6,143.4 L70.4,144.04 L70.5,144.85 L71.4,143.33 L72.3,142.1 L73.2,139.22 L73.8,138.82 L74.1,138.76 L75.0,140.82 L75.9,141.7 L76.8,140.29 L77.2,141.21 L77.7,140.47 L78.6,139.86 L79.5,139.91 L80.4,139.58 L81.3,138.12 L82.2,136.85 L82.4,137.93 L83.1,136.46 L84.0,135.42 L84.9,134.11 L85.8,136.9 L86.7,139.14 L87.5,141.61 L87.6,142.06 L88.5,141.31 L89.4,144.38 L90.3,144.95 L91.0,145.24 L91.2,145.84 L92.1,145.55 L93.0,146.32 L93.9,146.31 L94.8,148.45 L95.7,147.72 L96.1,148.81 L96.6,149.12 L97.5,150.22 L98.4,151.9 L99.3,152.37 L100.2,153.45 L100.9,155.38 L101.1,154.28 L102.0,153.25 L102.9,150.66 L103.0,152.04 L103.8,151.34 L104.7,149.39 L105.6,148.91 L106.5,148.42 L107.4,147.72 L108.1,147.16 L108.3,148.43 L109.2,148.93 L110.1,147.68 L111.0,147.84 L111.9,146.93 L112.8,147.09 L113.7,147.84 L114.1,148.09 L114.6,147.3 L115.5,142.23 L115.8,141.57 L116.4,143.69 L117.3,143.36 L118.2,143.15 L119.1,144.95 L120.0,144.38 L120.1,145.73 L120.9,150.54 L121.8,154.29 L122.7,157.58 L123.6,157.03 L124.5,157.56 L125.4,157.29 L126.3,159.11 L127.0,158.63 L127.2,159.53 L128.1,159.26 L129.0,159.88 L129.9,162.31 L130.8,163.66 L131.3,163.22 L131.7,162.93 L132.6,161.24 L133.5,159.32 L134.4,156.26 L134.7,156.42 L135.3,156.02 L136.2,155.18 L137.1,155.17 L138.0,155.83 L138.9,155.77 L139.8,156.9 L139.9,156.82 L140.0,157.45 L140.7,159.61 L141.6,161.0 L142.5,162.17 L143.4,161.89 L144.3,163.25 L145.2,161.3 L146.1,159.73 L146.9,158.93 L147.0,159.76 L147.9,162.65 L148.8,164.66 L149.7,165.88 L150.6,168.24 L151.5,167.11 L152.4,163.48 L153.3,163.21 L153.4,162.97 L154.2,163.47 L155.1,163.54 L156.0,162.99 L156.9,162.37 L157.8,164.11 L158.7,163.08 L159.6,164.45 L160.5,165.05 L161.4,163.71 L161.5,163.91 L162.3,165.76 L163.2,165.85 L164.1,165.08 L165.0,165.64 L165.9,166.37 L166.6,168.17 L166.8,168.98 L167.7,168.98 L168.6,172.46 L169.5,174.58 L170.4,175.46 L170.9,175.86 L171.3,175.63 L172.2,173.44 L173.1,172.03 L174.0,173.41 L174.8,171.34 L174.9,171.47 L175.8,174.33 L176.7,174.83 L177.6,177.77 L178.5,179.45 L179.4,179.65 L179.5,180.37 L180.3,178.96 L181.2,177.58 L182.1,177.23 L183.0,175.14 L183.9,174.31 L184.8,172.31 L185.7,173.1 L186.3,171.07 L186.6,171.18 L187.5,171.79 L188.4,172.9 L188.9,171.93 L189.3,172.69 L190.2,170.7 L190.6,170.33 L191.1,173.69 L191.5,175.86 L192.0,176.45 L192.9,176.32 L193.8,176.4 L194.7,179.01 L195.6,177.93 L195.8,178.88 L196.5,180.44 L197.4,181.22 L198.3,182.14 L199.2,181.27 L200.1,180.28 L201.0,179.8 L201.8,177.74 L201.9,177.99 L202.8,174.79 L203.7,172.48 L204.4,171.45 L204.6,170.89 L205.5,169.55 L206.4,168.59 L207.3,167.51 L208.2,164.81 L208.6,164.4 L209.1,164.44 L210.0,164.69 L210.9,165.39 L211.8,165.0 L212.1,165.23 L212.7,163.27 L213.6,161.67 L214.5,158.24 L214.7,157.44 L215.4,158.45 L216.3,156.93 L217.2,157.97 L218.1,159.22 L218.9,158.61 L219.0,157.62 L219.9,159.97 L220.8,163.19 L221.5,164.81 L221.7,165.08 L222.6,167.16 L223.5,171.22 L224.4,174.03 L225.3,176.84 L225.8,176.89 L226.2,176.62 L227.1,173.9 L227.9,170.88 L228.0,172.66 L228.9,177.03 L229.8,179.24 L230.7,185.3 L231.6,188.01 L231.8,189.19 L232.5,188.87 L233.4,186.39 L233.5,184.99 L234.3,186.4 L235.2,188.06 L236.1,189.04 L237.0,190.62 L237.9,189.72 L238.8,190.05 L239.7,187.52 L240.6,188.19 L241.3,187.45 L241.5,185.38 L242.4,182.3 L242.5,182.41 L243.3,185.79 L244.2,188.51 L244.7,192.24 L245.1,192.95 L246.0,194.33 L246.9,192.97 L247.8,194.29 L248.7,194.6 L249.0,196.35 L249.6,195.61 L250.5,195.42 L251.4,196.34 L252.3,197.78 L253.2,197.71 L253.3,196.68 L254.1,197.4 L255.0,200.99 L255.9,201.67 L256.7,203.08 L256.8,201.63 L257.7,199.75 L258.4,199.67 L258.6,199.66 L259.5,200.33 L260.4,204.17 L261.3,204.97 L261.8,205.77 L262.2,202.3 L263.1,199.55 L263.9,194.01 L264.0,195.36 L264.9,194.48 L265.8,194.36 L266.7,195.1 L267.6,196.25 L267.9,194.99 L268.5,196.6 L269.4,201.18 L270.3,203.98 L271.2,207.19 L271.3,208.29 L272.1,205.08 L273.0,202.82 L273.9,200.46 L274.7,198.42 L274.8,198.98 L275.7,195.09 L276.6,192.97 L277.3,190.61 L277.5,190.5 L278.4,189.65 L279.3,190.25 L280.0,190.46 L280.2,191.67 L281.1,191.93 L282.0,191.72 L282.9,193.2 L283.8,194.4 L284.7,191.82 L285.6,192.51 L286.5,190.34 L286.9,190.0 L287.4,189.85 L288.3,186.88 L289.2,185.34 L290.0,183.87 L290.1,185.03 L291.0,184.07 L291.9,186.05 L292.8,186.43 L293.7,186.72 L294.6,183.13 L295.5,179.76 L296.4,175.77 L296.8,175.16 L297.3,176.41 L298.2,181.79 L298.9,183.78 L299.1,183.29 L300.0,183.84 L300.9,186.56 L301.8,187.4 L302.0,186.76 L302.7,187.99 L303.6,190.4 L304.5,193.05 L305.4,196.06 L306.3,193.36 L307.1,192.55 L307.2,192.31 L308.1,197.01 L309.0,199.92 L309.5,200.34 L309.9,198.45 L310.8,197.67 L311.7,193.3 L311.8,193.37 L312.6,193.8 L313.5,196.59 L314.4,198.63 L315.2,200.3 L315.3,198.67 L316.2,191.78 L316.9,185.35 L317.1,184.81 L318.0,182.66 L318.9,181.77 L319.5,180.48 L319.8,181.54 L320.7,187.9 L321.6,193.35 L322.5,199.9 L322.6,200.33 L323.4,199.27 L324.3,197.14 L324.6,196.3 L325.2,199.85 L326.1,202.74 L327.0,206.72 L327.2,208.54 L327.9,205.42 L328.8,204.64 L328.9,203.93 L329.7,206.61 L330.1,210.11 L330.6,208.88 L331.5,204.71 L332.4,201.5 L333.2,198.08 L333.3,196.4 L334.2,193.27 L334.9,190.0 L335.1,191.49 L336.0,194.22 L336.9,197.08 L337.8,199.25 L338.4,201.26 L338.7,200.56 L339.6,198.16 L340.5,194.52 L341.4,191.57 L342.1,190.57 L342.3,190.52 L343.2,189.75 L344.1,191.56 L344.9,190.65 L345.0,190.58 L345.9,187.4 L346.8,184.37 L347.0,183.19 L347.7,183.59 L348.6,187.81 L349.5,189.43 L350.4,191.91 L351.2,194.33 L351.3,195.01 L352.2,196.17 L353.1,200.62 L353.5,200.97 L354.0,200.04 L354.9,200.45 L355.8,201.56 L356.4,200.63 L356.7,202.09 L357.6,204.41 L358.5,204.87 L359.3,206.29 L359.4,206.77 L360.3,211.16 L360.7,212.64 L361.2,208.7 L362.1,201.33 L363.0,203.97 L363.9,208.02 L364.1,209.58 L364.8,213.6 L365.7,216.54 L365.8,217.56 L366.6,216.63 L367.5,217.21 L367.6,218.19 L368.4,222.05 L369.3,225.37 L370.2,235.27 L371.1,243.89 L371.2,245.52 L372.0,243.67 L372.4,242.87 L372.9,246.61 L373.4,252.66 L373.8,256.43 L374.7,269.51 L375.5,278.5 L375.6,275.39 L376.5,263.45 L376.8,259.49 L377.4,266.33 L377.5,266.05 L378.3,263.1 L379.2,260.25 L379.7,259.91 L380.1,258.99 L381.0,260.5 L381.9,259.91 L382.0,260.92 L382.8,268.28 L383.7,273.12 L384.0,276.69 L384.6,270.89 L385.4,263.85 L385.5,264.15 L386.4,263.97 L387.3,266.76 L388.2,266.75 L388.3,266.47 L389.1,265.61 L390.0,266.88 L390.6,266.86 L390.9,267.81 L391.8,271.67 L392.6,276.26 L392.7,275.27 L393.6,270.78 L393.8,268.15 L394.5,275.7 L395.2,281.81 L395.4,280.91 L396.3,284.81 L396.9,285.09 L397.2,283.17 L398.1,273.61 L399.0,280.3 L399.8,286.6 L399.9,285.99 L400.7,268.68 L400.8,269.1 L401.7,277.0 L402.6,284.34 L402.9,287.09 L403.5,284.73 L403.8,285.2 L404.4,289.1 L405.3,297.92 L406.2,303.26 L406.4,305.29 L407.1,301.22 L408.0,294.84 L408.9,289.98 L409.8,285.36 L410.6,279.25 L410.7,279.47 L411.6,276.81 L412.0,275.88 L412.5,279.28 L413.4,283.0 L414.3,288.19 L414.6,288.79 L415.2,285.95 L415.8,281.46 L416.1,284.16 L416.7,287.63 L417.0,284.07 L417.9,274.82 L418.4,271.59 L418.8,269.96 L419.7,270.24 L420.6,269.3 L420.9,269.32 L421.5,270.39 L422.4,271.41 L422.7,270.08 L423.2,279.04 L423.3,277.88 L424.2,273.99 L424.9,270.2 L425.1,269.56 L426.0,270.1 L426.9,270.78 L427.8,272.47 L428.7,271.14 L429.5,270.05 L429.6,271.69 L430.5,274.9 L431.4,276.45 L432.1,278.57 L432.3,278.84 L433.2,281.92 L433.5,283.96 L434.1,281.29 L434.7,280.36 L435.0,280.38 L435.9,282.4 L436.8,284.43 L437.3,284.33 L437.7,284.56 L438.6,286.11 L439.5,287.95 L439.8,288.29 L440.4,289.78 L441.3,291.76 L441.5,293.3 L442.2,300.72 L442.7,303.46 L443.1,299.85 L444.0,291.29 L444.9,283.0 L445.3,277.84 L445.8,280.11 L446.7,284.75 L447.6,290.01 L448.5,286.36 L448.9,285.31 L449.4,288.49 L450.3,293.39 L451.2,296.02 L451.3,297.37 L452.1,292.97 L452.7,288.76 L453.0,289.61 L453.9,293.75 L454.8,296.07 L454.9,297.7 L455.7,287.44 L455.8,285.2 L456.6,290.09 L457.5,295.19 L457.9,295.87 L458.4,295.6 L459.3,296.66 L460.2,298.55 L460.4,298.87 L461.1,298.23 L462.0,295.58 L462.9,293.31 L463.0,292.94 L463.8,288.52 L464.7,284.18 L465.2,281.08 L465.6,284.52 L466.5,288.23 L467.3,293.88 L467.4,294.21 L468.3,296.3 L469.2,298.82 L469.9,301.87 L470.1,298.8 L470.7,287.68 L471.0,289.23 L471.9,297.32 L472.4,303.02 L472.8,304.26 L473.7,306.1 L474.2,307.45 L474.6,306.5 L475.5,301.68 L476.4,299.14 L477.1,297.06 L477.3,299.64 L478.2,304.86 L478.5,306.85 L479.1,301.89 L479.9,295.66 L480.0,295.81 L480.9,302.81 L481.8,307.28 L482.7,311.39 L483.0,313.16 L483.6,316.03 L484.5,320.14 L485.4,323.13 L486.3,326.36 L486.5,327.95 L487.2,327.58 L488.1,324.06 L488.4,323.78 L489.0,327.56 L489.9,333.43 L490.1,335.07 L490.8,330.36 L491.2,329.27 L491.7,334.54 L492.4,340.8 L492.6,339.83 L493.5,340.92 L493.6,339.43 L494.4,345.91 L495.3,350.53 L495.5,352.35 L496.2,355.86 L497.1,358.31 L498.0,353.45 L498.3,350.2 L498.9,362.5 L499.0,365.25 L499.8,368.06 L500.7,371.55 L501.6,385.22 L502.3,393.58 L502.5,393.62 L503.4,393.15 L504.3,395.13 L505.2,392.97 L505.4,393.49 L506.1,393.6 L507.0,395.56 L507.3,396.56 L507.9,390.53 L508.8,380.13 L509.0,377.75 L509.7,381.16 L510.1,381.44 L510.6,380.78 L511.5,382.73 L512.4,382.24 L513.3,380.38 L514.2,382.03 L514.9,381.49 L515.1,378.44 L516.0,365.58 L516.7,355.8 L516.9,354.75 L517.8,355.2 L518.4,355.46 L518.7,357.43 L519.6,357.22 L520.5,361.36 L520.8,360.53 L521.4,362.55 L522.3,366.94 L523.2,370.12 L523.8,371.34 L524.1,370.07 L525.0,370.7 L525.9,370.18 L526.8,375.58 L527.7,377.87 L528.6,382.51 L529.5,388.08 L530.2,389.87 L530.4,387.71 L531.3,378.14 L532.2,367.41 L532.6,361.58 L533.1,364.9 L534.0,372.37 L534.9,381.28 L535.8,380.72 L536.7,382.44 L537.3,382.46 L537.6,379.22 L538.5,371.65 L539.4,366.03 L539.6,363.31 L540.3,359.08 L541.2,355.76 L541.5,353.53 L542.1,355.2 L543.0,357.62 L543.2,359.83 L543.9,361.28 L544.8,361.32 L545.7,362.9 L546.0,361.57 L546.6,360.17 L547.5,359.08 L548.4,358.62 L549.1,356.51 L549.3,356.59 L550.2,359.76 L550.3,360.74 L551.1,352.7 L552.0,344.73 L552.9,333.7 L553.1,332.78 L553.8,337.47 L554.7,343.28 L555.0,344.55 L555.6,344.89 L556.5,344.63 L557.3,345.34 L557.4,344.91 L558.3,343.94 L559.2,340.05 L560.1,338.3 L560.4,338.63 L561.0,342.17 L561.9,348.33 L562.8,355.68 L563.7,344.93 L564.4,335.84 L564.6,339.42 L565.5,348.91 L565.6,349.44 L566.4,347.22 L567.3,345.44 L568.0,345.13 L568.2,345.9 L569.1,348.28 L570.0,349.42 L570.9,350.69 L571.5,352.52 L571.8,353.6 L572.7,355.79 L573.6,358.03 L574.5,360.34 L575.1,360.95 L575.4,358.43 L576.3,356.16 L577.2,350.59 L577.4,350.26 L578.1,352.61 L579.0,357.09 L579.8,359.33 L579.9,358.49 L580.0,358.47 L580.8,355.65 L581.7,355.13 L582.6,351.92 L583.2,349.94 L583.5,351.97 L584.4,359.94 L584.7,360.81 L585.3,359.13 L586.0,358.98 L586.2,361.1 L587.1,370.98 L587.5,373.34 L588.0,369.5 L588.9,362.95 L589.7,355.81 L589.8,356.52 L590.7,353.78 L591.6,353.97 L591.8,354.05 L592.5,356.09 L593.4,361.34 L593.9,361.98 L594.3,363.8 L595.2,364.11 L596.1,366.53 L597.0,357.67 L597.6,351.98 L597.9,352.09 L598.8,350.04 L599.3,347.14 L599.7,348.8 L600.6,351.24 L601.5,353.04 L602.4,353.9 L603.3,354.25 L603.6,355.23 L604.2,356.31 L605.1,359.37 L605.8,360.94 L606.0,360.33 L606.9,361.21 L607.8,363.4 L607.9,364.16 L608.7,366.88 L609.6,371.36 L610.0,373.43 L610.5,376.6 L611.4,379.8 L611.5,379.7 L612.3,375.73 L613.2,372.74 L613.3,372.65 L614.1,372.16 L615.0,369.84 L615.9,369.13 L616.5,369.58 L616.8,367.48 L617.7,362.09 L618.6,357.42 L619.5,359.36 L620.3,358.53 L620.4,359.41 L621.3,363.69 L622.2,368.67 L622.5,370.83 L623.1,372.45 L624.0,371.8 L624.4,372.32 L624.9,370.37 L625.8,363.92 L626.1,362.55 L626.7,362.87 L627.6,359.87 L628.3,358.99 L628.5,357.84 L629.4,356.29 L630.3,352.41 L630.4,351.89 L631.2,349.71 L632.1,349.72 L633.0,348.57 L633.2,348.27 L633.9,345.11 L634.8,344.28 L635.7,341.41 L635.8,341.5 L636.6,342.22 L637.5,344.42 L637.9,345.82 L638.4,347.39 L639.3,346.14 L640.2,348.01 L641.1,349.7 L641.2,349.42 L642.0,348.86 L642.9,349.41 L643.8,352.27 L643.9,351.63 L644.7,352.32 L645.6,352.51 L646.1,354.79 L646.5,352.96 L647.4,351.72 L647.6,350.21 L648.3,354.96 L649.1,358.39 L649.2,359.71 L650.1,360.66 L651.0,363.54 L651.9,366.52 L652.8,369.64 L653.4,370.21 L653.7,369.45 L654.6,368.98 L655.5,368.32 L656.4,371.75 L657.3,375.46 L658.2,369.66 L659.1,365.41 L659.4,363.36 L660.0,355.35 L660.9,347.02 L661.5,340.63 L661.8,340.67 L662.7,347.17 L663.6,349.72 L663.7,351.29 L664.5,353.77 L665.4,356.71 L665.8,357.42 L666.3,357.7 L667.2,358.67 L667.6,358.63 L668.1,354.81 L669.0,346.52 L669.9,338.76 L670.1,336.77 L670.8,336.65 L671.7,335.2 L672.6,333.43 L672.7,334.24 L673.5,316.88 L674.0,304.96 L674.4,302.46 L675.3,299.38 L675.5,298.24 L676.2,300.83 L677.1,305.73 L677.6,307.83 L678.0,309.03 L678.9,311.42 L679.8,313.18 L680.7,325.33 L681.6,335.27 L682.5,348.34 L682.6,349.25 L683.4,346.15 L684.1,343.19 L684.3,344.39 L685.2,347.79 L686.1,345.86 L687.0,340.53 L687.3,340.72 L687.9,338.32 L688.8,332.57 L689.4,328.89 L689.7,323.0 L690.0,319.44 L690.6,321.44 L691.5,326.33 L692.1,327.98 L692.4,326.58 L693.3,327.75 L694.2,327.67 L694.3,326.1 L695.1,327.33 L696.0,329.76 L696.4,329.39 L696.9,329.43 L697.8,325.47 L698.7,324.53 L699.6,320.43 L699.7,321.1 L700.5,320.59 L701.4,316.94 L702.3,315.28 L702.9,314.71 L703.2,313.88 L704.1,312.11 L705.0,311.45 L705.9,310.35 L706.1,311.4 L706.8,312.7 L707.7,314.85 L708.2,314.4 L708.6,314.95 L709.5,312.1 L710.4,312.07 L710.8,311.62 L711.3,312.47 L712.2,316.22 L713.1,317.8 L713.6,319.07 L714.0,319.72 L714.9,317.08 L715.8,318.77 L716.7,317.21 L716.8,316.7 L717.6,317.57 L718.5,316.19 L719.4,318.08 L720.0,316.87 L720.3,315.56 L721.2,314.0 L722.1,310.54 L722.2,310.11 L723.0,311.73 L723.9,310.71 L724.8,313.51 L725.4,312.98 L725.7,313.64 L726.6,314.76 L727.5,313.95 L728.4,314.38 L728.6,313.83 L729.3,313.07 L730.2,313.62 L731.1,314.38 L732.0,316.06 L732.9,316.05 L733.8,316.73 L734.0,317.16 L734.7,318.71 L735.6,322.64 L736.1,325.54 L736.5,325.6 L737.4,328.79 L737.6,330.67 L738.3,328.15 L739.2,326.71 L740.1,324.28 L740.4,324.38 L741.0,328.65 L741.9,333.83 L742.6,339.51 L742.8,338.64 L743.7,334.64 L744.6,333.61 L745.4,329.47 L745.5,329.09 L746.4,331.7 L747.3,335.85 L747.5,336.44 L748.2,335.41 L749.1,332.58 L750.0,330.39 L750.1,330.36 L750.9,331.43 L751.8,331.49 L752.7,331.22 L753.3,331.93 L753.6,331.77 L754.5,333.41 L755.4,333.23 L756.1,332.67 L756.3,333.62 L757.2,329.9 L758.1,329.67 L758.7,328.51 L759.0,327.32 L759.9,325.05 L760.8,325.13 L761.7,321.33 L761.9,322.25 L762.6,326.55 L763.5,328.58 L764.0,331.53 L764.4,335.41 L765.3,342.63 L766.2,350.23 L767.1,355.5 L768.0,358.43 L768.3,360.63 L768.9,355.59 L769.8,347.9 L770.5,343.95 L770.7,344.14 L771.6,343.06 L772.5,340.32 L772.6,341.81 L773.4,341.37 L774.3,339.79 L774.8,339.62 L775.2,339.28 L776.1,338.69 L776.9,339.04 L777.0,338.21 L777.9,333.29 L778.8,329.65 L779.1,328.83 L779.7,326.36 L780.6,322.64 L781.2,319.19 L781.5,317.75 L782.4,316.58 L782.7,315.74 L783.3,321.07 L784.2,327.15 L784.4,328.39 L785.1,323.85 L786.0,318.1 L786.6,312.24 L786.9,312.66 L787.8,307.93 L788.7,306.48 L789.6,306.75 L790.5,308.8 L791.4,310.05 L791.9,309.52 L792.3,308.27 L793.2,308.4 L794.1,305.94 L795.0,312.46 L795.2,315.07 L795.9,315.28 L796.8,315.75 L797.7,315.99 L798.4,316.24 L798.6,315.98 L799.5,318.13 L800.0,318.08 L800.4,320.47 L801.3,323.06 L802.1,326.7 L802.2,327.02 L803.1,329.41 L804.0,332.23 L804.3,334.11 L804.9,333.39 L805.8,336.28 L806.7,335.01 L806.9,335.67 L807.6,334.38 L808.5,335.62 L809.0,333.86 L809.4,331.3 L810.3,327.04 L810.7,326.08 L811.2,332.36 L811.8,338.42 L812.1,336.87 L813.0,331.16 L813.3,328.2 L813.9,330.31 L814.6,331.68 L814.8,332.05 L815.7,329.46 L816.6,327.05 L817.2,323.91 L817.5,324.62 L818.4,322.83 L819.3,321.0 L819.7,318.64 L820.2,317.84 L821.1,316.89 L822.0,315.98 L822.5,317.12 L822.9,317.22 L823.8,315.89 L824.7,315.51 L825.6,314.14 L825.8,313.41 L826.5,313.5 L827.4,314.7 L828.3,317.63 L829.0,317.63 L829.2,317.97 L830.1,320.65 L831.0,322.01 L831.8,325.18 L831.9,324.92 L832.8,326.84 L833.7,326.73 L834.3,327.44 L834.6,329.53 L835.5,330.5 L836.4,333.57 L836.5,333.01 L837.3,332.36 L838.2,334.11 L839.1,335.04 L840.0,340.08 L840.9,343.23 L841.8,348.09 L842.7,348.6 L843.6,348.36 L844.5,350.64 L845.1,349.73 L845.4,350.13 L846.3,346.02 L847.2,343.16 L848.1,341.26 L848.3,341.74 L849.0,342.74 L849.9,340.21 L850.4,341.49 L850.8,342.26 L851.7,344.81 L852.6,345.51 L853.5,349.47 L854.4,352.77 L854.7,354.7 L855.3,354.95 L856.2,358.49 L856.9,358.5 L857.1,358.64 L858.0,362.99 L858.9,365.55 L859.7,367.95 L859.8,368.95 L860.7,370.21 L861.6,374.75 L862.2,375.98 L862.5,374.19 L863.4,366.69 L863.7,363.87 L864.3,367.34 L865.2,372.73 L865.5,375.16 L866.1,371.58 L867.0,370.45 L867.6,366.87 L867.9,367.14 L868.8,369.08 L869.7,371.87 L870.6,363.61 L871.5,355.4 L871.9,352.55 L872.4,347.57 L873.3,341.09 L873.4,340.43 L874.2,350.89 L875.1,361.94 L875.5,366.33 L876.0,362.53 L876.9,356.57 L877.3,354.09 L877.8,359.59 L878.3,363.15 L878.7,359.04 L879.6,347.23 L879.8,345.74 L880.5,341.88 L881.1,337.27 L881.4,332.37 L882.3,321.66 L882.6,318.25 L883.2,322.18 L884.1,329.51 L884.8,335.92 L885.0,337.75 L885.9,343.17 L886.8,346.44 L886.9,347.59 L887.7,343.83 L888.4,341.34 L888.6,343.54 L889.5,351.53 L889.7,354.24 L890.4,354.29 L891.3,357.24 L891.8,356.71 L892.2,359.2 L893.1,369.84 L893.3,370.14 L894.0,365.08 L894.9,360.05 L895.5,354.67 L895.8,354.08 L896.7,350.52 L897.6,347.62 L898.5,344.33 L899.4,339.02 L899.8,338.03 L900.3,336.72 L901.2,333.49 L901.9,332.81 L902.1,334.93 L903.0,340.4 L903.9,345.63 L904.1,347.02 L904.8,346.07 L905.7,344.29 L906.2,344.79 L906.6,339.4 L907.3,331.02 L907.5,332.82 L908.4,336.04 L909.3,334.49 L910.0,333.13 L910.2,332.59 L911.1,331.62 L912.0,332.43 L912.1,332.15 L912.9,333.31 L913.8,334.02 L914.3,334.32 L914.7,334.47 L915.6,334.37 L916.4,333.96 L916.5,334.17 L917.4,340.89 L918.2,345.43 L918.3,346.3 L919.2,353.67 L919.7,356.69 L920.1,357.87 L921.0,359.19 L921.8,361.83 L921.9,361.84 L922.8,362.74 L923.7,362.66 L923.9,363.16 L924.6,366.39 L925.5,367.36 L926.4,371.51 L927.2,373.95 L927.3,373.15 L928.2,371.11 L929.1,370.07 L929.7,366.88 L930.0,366.51 L930.9,362.82 L931.5,362.16 L931.8,362.89 L932.7,361.32 L933.6,360.44 L934.5,364.96 L935.3,368.34 L935.4,369.19 L936.3,371.58 L937.2,374.84 L937.3,375.1 L938.1,367.75 L939.0,359.62 L939.9,362.71 L940.8,362.63 L941.1,364.17 L941.7,360.23 L942.6,355.96 L943.3,350.86 L943.5,352.66 L944.4,351.92 L945.3,352.05 L945.4,353.09 L946.2,355.77 L947.1,357.83 L947.6,360.73 L948.0,359.16 L948.9,356.67 L949.7,353.17 L949.8,352.64 L950.7,352.06 L951.6,352.93 L951.8,352.6 L952.5,350.55 L953.4,347.53 L954.3,346.83 L954.4,345.7 L955.2,347.01 L956.1,349.01 L956.6,351.45 L957.0,350.73 L957.9,347.42 L958.3,345.77 L958.8,346.06 L959.7,345.35 L960.4,346.62 L960.6,345.49 L961.5,344.76 L962.4,343.76 L962.6,342.89 L963.3,339.65 L964.2,335.51 L964.7,334.04 L965.1,331.88 L966.0,331.14 L966.2,329.57 L966.9,334.37 L967.8,337.68 L968.4,341.39 L968.7,339.94 L969.6,337.65 L970.5,334.81 L971.4,331.6 L972.3,331.26 L972.7,329.5 L973.2,328.58 L974.1,327.91 L975.0,327.58 L975.9,328.52 L976.8,330.17 L977.6,330.94 L977.7,330.69 L978.6,334.44 L979.5,336.52 L979.7,335.7 L980.4,338.0 L981.3,339.56 L981.9,339.66 L982.2,338.77 L983.1,341.46 L984.0,341.62 L984.9,342.16 L985.5,344.26 L985.8,345.16 L986.7,342.24 L987.3,340.17 L987.6,339.19 L988.5,338.77 L989.0,339.16 L989.4,336.09 L990.3,325.91 L990.5,323.98 L991.2,324.28 L992.1,322.62 L992.6,320.8 L993.0,323.88 L993.9,327.12 L994.3,328.86 L994.8,329.25 L995.7,330.22 L996.6,330.32 L996.9,330.01 L997.5,328.34 L998.4,328.77 L999.1,327.63 L999.3,328.23 L1000.2,327.44 L1001.1,328.59 L1002.0,327.74 L1002.3,327.39 L1002.9,325.37 L1003.8,322.81 L1004.4,322.19 L1004.7,320.47 L1005.6,319.8 L1006.5,317.23 L1007.2,316.79 L1007.4,317.48 L1008.3,320.67 L1009.1,323.63 L1009.2,322.13 L1010.1,325.33 L1011.0,325.39 L1011.9,326.56 L1012.8,328.69 L1013.7,330.9 L1014.1,330.69 L1014.6,331.61 L1015.5,334.85 L1016.4,334.38 L1016.7,336.22 L1017.3,330.03 L1017.7,324.97 L1018.2,329.42 L1019.0,335.27 L1019.1,336.31 L1020.0,335.85 L1020.9,339.46 L1021.8,340.45 L1022.4,341.89 L1022.7,343.14 L1023.6,341.51 L1024.5,343.91 L1025.4,344.28 L1025.9,344.15 L1026.3,344.66 L1027.2,342.06 L1028.1,341.03 L1028.3,340.82 L1029.0,344.49 L1029.4,345.24 L1029.9,344.35 L1030.8,342.56 L1031.7,341.14 L1031.8,341.1 L1032.6,338.89 L1033.5,338.74 L1034.4,336.09 L1034.6,336.0 L1035.3,334.73 L1036.2,334.47 L1037.1,334.82 L1037.7,333.14 L1038.0,334.28 L1038.9,334.66 L1039.8,336.2 L1040.1,337.02 L1040.7,336.32 L1041.6,334.79 L1042.0,333.96 L1042.5,335.02 L1043.4,341.33 L1044.3,346.28 L1044.8,347.84 L1045.2,345.41 L1046.1,343.32 L1047.0,339.82 L1047.1,340.52 L1047.9,341.9 L1048.8,341.08 L1049.7,341.21 L1050.6,341.55 L1050.7,341.17 L1051.5,344.62 L1052.4,348.61 L1053.1,351.52 L1053.3,353.14 L1054.2,358.39 L1055.1,364.13 L1055.4,365.24 L1056.0,366.3 L1056.9,366.31 L1057.8,367.65 L1058.5,367.04 L1058.7,366.36 L1059.6,365.02 L1060.5,365.97 L1061.3,364.78 L1061.4,364.41 L1062.3,360.1 L1063.2,357.72 L1063.7,355.16 L1064.1,358.43 L1064.4,360.58 L1065.0,357.5 L1065.9,353.63 L1066.8,349.19 L1067.2,347.74 L1067.7,348.17 L1068.6,348.93 L1069.5,346.64 L1069.6,347.86 L1070.4,349.09 L1071.3,352.09 L1071.5,353.98 L1072.2,351.93 L1073.1,350.29 L1073.6,347.75 L1074.0,348.03 L1074.9,352.36 L1075.5,354.98 L1075.8,356.65 L1076.7,358.6 L1077.6,359.13 L1077.8,359.52 L1078.5,359.9 L1079.4,363.02 L1080.3,363.61 L1080.9,365.18 L1081.2,365.43 L1082.1,368.96 L1083.0,374.29 L1083.3,374.66 L1083.9,378.98 L1084.8,380.84 L1085.6,385.94 L1085.7,384.02 L1086.6,378.24 L1087.5,374.57 L1088.4,367.84 L1088.5,368.11 L1089.3,370.64 L1090.1,374.59 L1090.2,375.4 L1091.1,372.45 L1092.0,369.42 L1092.9,370.15 L1093.8,368.92 L1094.4,370.42 L1094.7,369.51 L1095.6,364.87 L1096.0,363.59 L1096.5,363.29 L1097.4,366.45 L1098.3,367.12 L1098.4,366.26 L1099.2,364.18 L1100.1,364.43 L1101.0,363.45 L1101.4,361.62 L1101.9,363.72 L1102.8,368.78 L1103.7,371.29 L1103.8,372.93 L1104.6,374.53 L1105.5,375.63 L1106.2,378.38 L1106.4,377.36 L1107.3,371.02 L1108.2,365.66 L1108.5,362.88 L1109.1,362.5 L1110.0,359.16 L1110.9,357.43 L1111.8,358.3 L1112.7,358.42 L1113.6,359.01 L1114.0,359.86 L1114.5,360.76 L1115.4,360.34 L1116.3,359.77 L1116.8,359.41 L1117.2,356.12 L1118.0,353.03 L1118.1,353.52 L1119.0,357.37 L1119.2,357.15 L1119.9,355.8 L1120.8,354.48 L1121.7,351.82 L1122.0,350.29 L1122.6,349.08 L1123.5,348.45 L1124.3,348.15 L1124.4,347.61 L1125.3,349.54 L1126.2,350.29 L1127.1,349.47 L1128.0,347.47 L1128.6,345.3 L1128.9,344.35 L1129.8,345.48 L1130.7,346.35 L1131.0,346.78 L1131.6,345.98 L1132.5,343.86 L1133.3,340.38 L1133.4,341.57 L1134.3,340.61 L1134.5,339.93 L1135.2,342.89 L1136.1,346.49 L1137.0,337.65 L1137.6,330.38 L1137.9,330.44 L1138.8,330.6 L1139.7,328.7 L1139.9,328.62 L1140.6,330.09 L1141.5,331.94 L1141.6,331.03 L1142.4,330.73 L1143.3,329.84 L1143.9,327.56 L1144.2,326.6 L1145.1,322.06 L1145.8,325.37" fill="none" stroke="#1670f0" stroke-width="2.15" stroke-linejoin="round" stroke-linecap="round"/></g>
<line x1="2" y1="326.5" x2="1146" y2="326.5" stroke="#1670f0" stroke-width="1" stroke-dasharray="2 2"/>
<line x1="2" y1="314.5" x2="1146" y2="314.5" stroke="#758696" stroke-width="1" stroke-dasharray="6 6"/>
<line x1="729.5" y1="61" x2="729.5" y2="435" stroke="#758696" stroke-width="1" stroke-dasharray="6 6"/>
<circle cx="728.8" cy="313.8" r="6" fill="#fff"/><circle cx="728.8" cy="313.8" r="4" fill="#1670f0"/>
</svg>
<div style="position:absolute;left:2px;top:436px;width:1200px;height:30px;overflow:hidden"><div style="position:absolute;left:-2px;top:-436px"><div class="tl" style="left:-16.3px">09:00</div>
<div class="tl" style="left:126.5px">12:00</div>
<div class="tl" style="left:269.5px">15:00</div>
<div class="tl" style="left:412.5px">18:00</div>
<div class="tl" style="left:555.5px">21:00</div>
<div class="tl" style="left:841.5px">03:00</div>
<div class="tl" style="left:984.5px">06:00</div>
<div class="tl" style="left:1079.5px">08:00</div></div></div>
<div class="pl" style="top:78px">3400.00</div>
<div class="pl" style="top:109px">3375.00</div>
<div class="pl" style="top:141px">3350.00</div>
<div class="pl" style="top:172px">3325.00</div>
<div class="pl" style="top:204px">3300.00</div>
<div class="pl" style="top:235px">3275.00</div>
<div class="pl" style="top:267px">3250.00</div>
<div class="pl" style="top:298px">3225.00</div>
<div class="pl" style="top:329px">3200.00</div>
<div class="pl" style="top:361px">3175.00</div>
<div class="pl" style="top:392px">3150.00</div>
<div class="pl" style="top:424px">3125.00</div>
<div style="position:absolute;left:1146px;top:324px;width:56px;height:12px;background:#1670f0"></div>
<div style="position:absolute;left:1146px;top:326px;width:4px;height:1px;background:#fff"></div>
<div class="lb" style="transform:scaleX(0.972);left:1154.8px;top:319px;height:14px;line-height:14px">3208.49</div>
<div style="position:absolute;left:1146px;top:305px;width:56px;height:19px;background:#4c525e"></div>
<div style="position:absolute;left:1146px;top:314px;width:4px;height:1px;background:#fff"></div>
<div class="lb" style="transform:scaleX(0.972);left:1154.8px;top:306.5px;height:14px;line-height:14px">3217.95</div>
<div style="position:absolute;left:676px;top:435px;width:106px;height:22px;background:#4c525e"></div>
<div style="position:absolute;left:729px;top:435px;width:1px;height:4px;background:#fff"></div>
<div class="lb" id="tc" style="transform:scaleX(0.9426);left:682.2px;top:439px;height:14px;line-height:14px">Aug 25, 2021 00:01</div>
</body></html>
